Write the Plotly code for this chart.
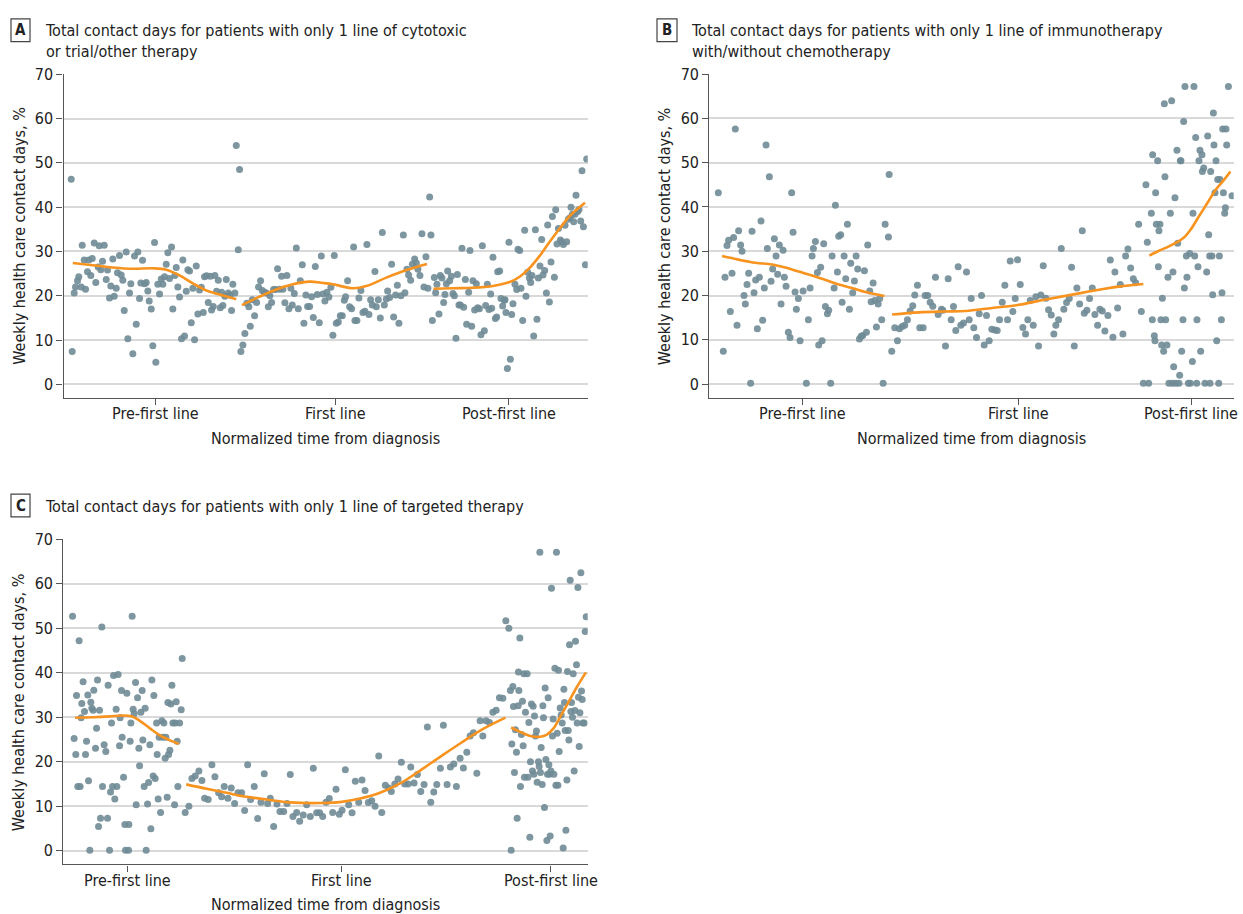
import plotly.graph_objects as go

# ---------------------------------------------------------------------------
# Weekly health care contact days (%) over normalized time from diagnosis.
# Time is on a 0-524 normalized scale per panel; each panel is split into
# pre-first-line, first-line and post-first-line periods.
# ---------------------------------------------------------------------------

SEGMENT_LABELS = ["Pre-first line", "First line", "Post-first line"]

# ---- Panel A: cytotoxic or trial/other therapy ---------------------------
a_pre_t = [7.7, 8.7, 10.7, 12, 14, 15.3, 17.7, 18.7, 20.7, 22, 24, 25.3, 27.3, 28.7, 30.7, 32.3, 34.7,
           35.7, 37.3, 39, 40.7, 42.7, 44, 46, 47.3, 49.3, 50.7, 52.7, 54, 56, 57.7, 59.3, 60.7, 62.7,
           64.3, 66, 67.3, 69.3, 71, 72.7, 74.3, 76, 77.3, 79, 81, 82.7, 84.3, 85.7, 87.7, 89.3, 91,
           92.3, 94.3, 96, 97.7, 99.3, 101, 102.7, 104.3, 106, 108, 109.3, 111.3, 112.7, 114.3, 116,
           118, 119.3, 121, 122.7, 124.3, 126, 127.7, 129.3, 131, 132.7, 134.3, 136, 137.7, 139.7, 141,
           143, 144.7, 146.7, 148, 149.7, 151.3, 153, 154.7, 156.7, 158, 159.3, 161.3, 162.7, 164.7,
           166.7, 168, 169.3, 171.3, 172.7, 174.7, 176]
a_pre_pct = [46.3, 7.4, 20.6, 22.0, 23.4, 24.3, 22.0, 31.4, 28.1, 21.5, 25.4, 28.1, 24.6, 28.4, 31.9, 23.0,
             26.5, 31.3, 25.9, 27.8, 31.4, 23.7, 25.8, 19.5, 22.2, 28.3, 19.9, 21.7, 25.2, 29.1, 24.7, 23.5,
             16.7, 29.9, 10.3, 20.6, 22.7, 6.9, 29.0, 13.6, 29.9, 19.4, 22.9, 28.0, 22.7, 23.0, 21.1, 18.8,
             17.0, 8.7, 32.0, 5.0, 22.6, 20.4, 23.8, 22.6, 24.3, 27.1, 29.7, 23.9, 31.0, 17.0, 24.6, 26.4,
             22.0, 19.7, 10.3, 28.1, 10.9, 21.0, 25.9, 25.6, 13.9, 21.7, 10.1, 26.7, 15.9, 21.3, 21.9, 16.2,
             24.3, 24.5, 18.5, 24.4, 16.8, 17.6, 24.6, 21.0, 23.5, 17.3, 20.8, 17.8, 19.9, 23.7, 20.6, 20.2,
             16.7, 22.6, 20.6, 53.9, 30.4, 48.5]
a_first_t = [177.3, 179.3, 181.3, 183.3, 185.3, 186.7, 188.7, 191, 193, 195, 197, 198.7, 200.7, 202.7,
             204.7, 206.3, 208, 210, 212, 214, 216, 218, 219.3, 221.3, 223.3, 225.3, 227.3, 228.7, 230.7,
             232.7, 234.7, 236.7, 238.7, 240.3, 242.3, 244, 246, 248, 249.7, 251.7, 253.7, 255.7, 257.7,
             259.3, 261.3, 263.3, 265.3, 267.3, 269.3, 270.7, 272.7, 274.7, 276.7, 278.7, 280.7, 282, 284,
             286, 288, 290, 291.3, 293.3, 295.3, 297.3, 299.3, 301.3, 303.3, 305.3, 307, 308.7, 311.3,
             312.7, 314.7, 316.7, 318.7, 320.7, 322.7, 324, 326, 328, 330, 332, 333.7, 335.3, 337.3,
             339.7, 341.3, 343.3, 345, 347, 348.7, 351, 352.7, 354.3, 356.3, 358.3, 360.3, 362.3, 364.3,
             366, 367.3]
a_first_pct = [7.4, 8.9, 11.5, 18.3, 17.5, 13.1, 19.1, 15.5, 18.5, 22.0, 23.4, 21.2, 20.8, 20.6, 17.5, 20.0,
               18.5, 21.4, 21.4, 26.1, 21.5, 24.4, 21.5, 18.4, 24.6, 17.1, 21.7, 17.9, 20.5, 30.8, 17.1,
               23.4, 27.0, 13.8, 20.2, 17.6, 17.6, 19.8, 15.1, 26.6, 20.3, 13.9, 29.0, 20.4, 18.8, 20.8,
               19.7, 21.9, 11.1, 29.1, 13.8, 14.1, 15.5, 15.5, 19.0, 19.8, 23.4, 17.5, 17.1, 31.0, 14.4,
               14.4, 19.5, 21.2, 16.2, 16.5, 31.6, 15.8, 19.1, 17.9, 25.5, 17.5, 19.1, 15.0, 34.3, 17.9,
               19.3, 21.1, 19.6, 27.1, 15.2, 20.2, 22.4, 13.8, 20.0, 33.7, 20.7, 26.0, 24.7, 23.5, 27.1,
               28.3, 27.4, 26.0, 24.6, 34.0, 22.0, 28.8, 21.7, 42.3, 33.7]
a_post_t = [368.7, 370.7, 372, 373.3, 375.3, 376.7, 378.3, 380, 381.3, 382.7, 384, 386, 387.7, 389.3, 390.7,
            392.3, 393.7, 395.3, 396.7, 398.3, 400, 401.7, 403, 405, 406.3, 408, 409.3, 411, 412.7, 414,
            415.7, 417.3, 418.7, 420.7, 422, 423.7, 425.3, 427, 428, 429.3, 431.7, 433, 434, 436, 437.3,
            439, 440.7, 441.3, 442.3, 443.7, 445.3, 446.7, 448, 449.3, 451.3, 453, 454.3, 456, 457.3, 459,
            461, 462.3, 464, 465.7, 467, 468.3, 470, 471.7, 473.3, 474.7, 476.3, 478, 479.3, 481, 482.7,
            484, 485.7, 487.3, 488.7, 490.7, 492, 493.3, 494.7, 496.7, 498, 499.7, 501.3, 503, 504.7,
            506.3, 507.3, 508.7, 510, 511.3, 512.3, 514, 515.3, 517, 518.3, 519.7, 521.7, 523]
a_post_pct = [14.4, 24.1, 20.7, 22.6, 15.9, 24.6, 24.0, 18.5, 20.3, 22.7, 25.6, 23.4, 24.4, 20.5, 20.0, 10.4,
              24.8, 17.9, 17.9, 30.7, 17.4, 23.7, 13.6, 20.8, 30.2, 13.1, 23.4, 16.8, 22.7, 17.3, 17.1,
              11.2, 31.3, 12.1, 17.8, 22.6, 16.9, 20.4, 17.2, 28.7, 14.9, 15.2, 25.4, 25.6, 19.4, 17.7,
              19.0, 19.1, 16.2, 3.6, 32.1, 5.7, 15.8, 18.2, 22.6, 21.4, 30.5, 30.2, 21.7, 14.4, 34.8, 19.9,
              25.3, 24.0, 23.0, 24.6, 10.9, 34.9, 14.7, 24.0, 26.7, 32.7, 24.7, 25.7, 20.6, 36.0, 18.6,
              27.6, 37.9, 24.2, 39.4, 31.7, 35.2, 32.6, 32.2, 31.6, 35.9, 32.2, 37.3, 37.6, 40.0, 38.4,
              36.7, 38.4, 42.7, 39.0, 39.5, 36.9, 48.2, 35.6, 27.0, 50.9]

# Smoothed (LOWESS) trend per period
a_fit_pre_t = [9.3, 29.3, 49.3, 69.3, 89.3, 102.7, 116, 129.3, 142.7, 156, 172.7]
a_fit_pre_pct = [27.4, 26.9, 26.4, 26.1, 26.2, 25.9, 24.6, 22.8, 21.2, 20.3, 19.2]
a_fit_first_t = [178.3, 196, 212.7, 229.3, 246, 259.3, 269.3, 289.3, 302.7, 322.7, 342.7, 363.3]
a_fit_first_pct = [17.9, 19.8, 21.4, 22.6, 23.2, 22.9, 22.6, 21.7, 22.2, 24.1, 25.8, 27.2]
a_fit_post_t = [369.7, 389.3, 409.3, 429.3, 446, 456, 466, 476, 486, 496, 506, 521.3]
a_fit_post_pct = [21.6, 21.7, 21.8, 22.2, 23.1, 24.3, 26.3, 29.0, 32.2, 35.2, 38.0, 41.0]

# ---- Panel B: immunotherapy with/without chemotherapy --------------------
b_pre_t = [9, 14, 15.7, 17.7, 19.3, 21, 22.7, 24.3, 26, 27.7, 29.3, 31.3, 32.7, 34.7, 36, 37.7, 39.3,
           41.3, 42.7, 44.7, 46.3, 48, 50, 51.7, 53.3, 55, 56.7, 58, 60, 61.7, 63.3, 65, 66.7, 68.3, 70,
           71.7, 73.7, 75, 76.7, 79, 80.7, 82.3, 83.7, 85.7, 87, 89, 90.7, 93.7, 97, 99, 100.7, 102.7,
           104, 106, 108, 109.3, 111.3, 112.7, 114.3, 116, 118, 119.3, 121.3, 122.7, 124.7, 126, 128,
           129.3, 131.3, 132.7, 134.7, 136.3, 138, 140, 141.3, 143.3, 145, 146.7, 148.3, 150, 151.7,
           153.3, 155, 157, 158.3, 160.3, 161.7, 163.7, 165.3, 167, 168.7, 170.3, 172.3, 173.7, 175.7,
           179, 179.7]
b_pre_pct = [43.2, 7.4, 24.1, 31.3, 32.5, 16.4, 25.0, 33.1, 57.6, 13.3, 34.6, 31.4, 30.0, 20.0, 18.1, 22.5,
             25.0, 0.2, 34.5, 20.6, 23.5, 12.5, 24.1, 36.8, 14.4, 21.7, 54.0, 30.6, 46.8, 23.2, 26.0, 32.8,
             28.9, 24.8, 31.4, 18.1, 30.2, 24.1, 22.1, 11.7, 10.5, 43.2, 34.3, 20.8, 16.9, 19.3, 9.8, 21.0,
             0.2, 14.5, 21.7, 28.9, 30.6, 32.2, 25.2, 8.8, 26.4, 9.8, 31.7, 17.5, 15.9, 16.7, 0.2, 28.9,
             21.7, 40.4, 25.3, 33.4, 33.7, 18.5, 28.9, 23.8, 36.1, 16.9, 27.3, 20.6, 23.3, 28.9, 26.0,
             10.2, 10.8, 11.0, 25.6, 11.7, 31.4, 21.0, 18.6, 22.8, 18.9, 12.9, 18.1, 19.3, 14.5, 0.2, 36.1,
             33.2, 47.3]
b_first_t = [182.3, 185.3, 188, 190, 192.7, 195.3, 198, 200.7, 203.3, 205.3, 208, 210.3, 213.7, 215.7,
             218.3, 220.7, 223.3, 226, 228.7, 232, 233.3, 236, 238.7, 241.7, 244, 246.3, 248.7, 251.3,
             254, 257, 259.7, 261.7, 264.3, 267, 269.7, 272, 274.7, 277, 279.7, 282.3, 285.3, 287.7, 290,
             292.7, 295.3, 298, 300.7, 303.3, 305.7, 308, 310.7, 313.3, 316, 318.3, 320.7, 323.7, 326.3,
             329, 331.3, 333.7, 336.3, 339, 341.7, 344.3, 346.3, 349, 351.7, 354.3, 357, 359.7, 362,
             364.7, 367.3, 370, 372.7, 374.7, 377.3, 380, 382.7, 385.3, 388, 390.3, 392.7, 395.3, 398.3,
             400.7, 403.3, 405.3, 408, 410.7, 413.3, 416, 418.3, 421, 423.7, 426]
b_first_pct = [7.4, 12.7, 9.8, 12.5, 13.0, 13.3, 14.5, 16.5, 17.7, 20.1, 22.3, 12.7, 12.7, 20.0, 20.0, 18.5,
               17.6, 24.1, 15.7, 16.9, 16.7, 8.6, 23.8, 14.5, 17.5, 12.1, 26.5, 13.3, 13.8, 25.3, 14.5,
               19.3, 12.7, 10.5, 15.9, 20.0, 8.8, 15.5, 9.8, 12.4, 12.2, 12.1, 14.5, 18.5, 22.3, 14.5,
               27.8, 16.4, 19.3, 28.1, 22.5, 12.8, 11.3, 14.5, 18.9, 13.3, 19.7, 8.6, 20.1, 26.7, 19.4,
               16.8, 15.6, 11.3, 13.3, 14.5, 30.6, 16.9, 18.4, 19.3, 26.4, 8.6, 21.7, 18.1, 34.6, 16.0,
               16.7, 19.3, 21.7, 15.7, 13.3, 16.9, 16.5, 12.0, 15.5, 28.0, 10.6, 25.3, 17.2, 22.5, 11.3,
               28.9, 30.5, 26.2, 23.8, 22.9]
b_post_t = [429, 431.7, 433.7, 436.3, 437.7, 439, 441.7, 443, 442.7, 444.7, 445.3, 446, 446.7, 448, 448.7,
            449.3, 450.3, 451.3, 452, 452.7, 454, 454.7, 455.3, 456, 457.3, 458.3, 459.3, 460.7, 462,
            462.7, 463.3, 464, 465.3, 466, 467.3, 468, 469.3, 470, 470.7, 471.3, 472, 473.3, 474, 474.7,
            475.3, 476.7, 477.3, 478.7, 480, 480.7, 482.7, 483.3, 484.3, 485, 486, 487, 487.3, 488.3,
            489.3, 490.3, 491, 492.3, 492.7, 494, 495.3, 497, 498, 499, 500, 500.3, 501, 502.3, 503,
            503.7, 504.3, 505.3, 506.3, 507, 508, 509, 509.7, 510.3, 511.7, 512.3, 513, 513.7, 515,
            515.7, 516.3, 517, 518.7, 522.3]
b_post_pct = [36.1, 16.4, 0.2, 45.0, 32.0, 0.2, 38.6, 51.8, 14.5, 10.9, 9.8, 43.2, 36.1, 50.4, 26.5, 34.6,
              36.1, 14.5, 8.8, 19.4, 7.4, 63.3, 46.8, 14.5, 8.8, 24.1, 0.2, 38.6, 64.0, 0.2, 25.3, 3.9,
              42.1, 0.2, 52.8, 31.8, 0.2, 2.0, 50.4, 50.4, 7.4, 14.5, 59.3, 21.7, 67.2, 28.9, 24.1, 0.2,
              29.5, 0.2, 5.1, 38.6, 67.2, 28.9, 55.7, 0.2, 14.5, 26.5, 50.4, 52.8, 7.4, 51.8, 48.0, 48.8,
              0.2, 25.3, 56.0, 33.7, 28.9, 0.2, 48.0, 28.9, 20.2, 61.2, 54.0, 43.2, 50.4, 9.8, 46.2, 0.2,
              28.9, 46.2, 14.5, 20.6, 57.6, 43.2, 38.6, 39.8, 57.6, 54.0, 67.2, 42.5]

b_fit_pre_t = [12.7, 29.3, 46, 62.7, 76, 89.3, 102.7, 116, 129.3, 142.7, 156, 175]
b_fit_pre_pct = [28.9, 28.1, 27.4, 27.0, 26.3, 25.4, 24.5, 23.5, 22.5, 21.7, 20.8, 19.9]
b_fit_first_t = [182.7, 209.3, 236, 256, 282.7, 309.3, 336, 362.7, 389.3, 409.3, 433.7]
b_fit_first_pct = [15.7, 16.2, 16.4, 16.5, 17.2, 17.9, 19.1, 20.2, 21.3, 22.0, 22.6]
b_fit_post_t = [439.7, 449.3, 459.3, 467.7, 474.3, 481, 489.3, 497.7, 506, 514.3, 520.7]
b_fit_post_pct = [29.0, 30.1, 31.1, 32.1, 33.1, 34.9, 37.9, 40.9, 43.9, 46.1, 48.0]

# ---- Panel C: targeted therapy -------------------------------------------
c_pre_t = [9.2, 10.8, 12.5, 13.2, 14.5, 15.8, 16.8, 17.8, 18.5, 19.8, 21.2, 22.2, 23.2, 24.5, 25.2, 26.5,
           27.5, 28.5, 29.8, 30.5, 32.2, 33.2, 34.2, 35.2, 36.2, 37.2, 38.5, 39.2, 40.8, 42.5, 44.2, 44.8,
           46.2, 47.2, 48.2, 49.2, 50.2, 51.5, 52.8, 53.5, 54.8, 56.2, 56.8, 58.2, 58.8, 60.2, 61.5,
           62.2, 63.5, 65.2, 65.5, 66.8, 67.5, 68.8, 69.8, 70.8, 72.2, 72.8, 74.2, 75.5, 76.2, 77.5,
           78.8, 79.5, 80.8, 81.8, 82.8, 84.2, 85.2, 86.5, 87.5, 88.5, 89.8, 90.5, 91.8, 93.2, 93.8,
           94.8, 95.8, 97.2, 98.5, 99.5, 100.5, 101.8, 102.5, 103.8, 104.5, 105.2, 106.5, 107.5, 108.5,
           109.5, 111.2, 111.8, 112.8, 113.8, 114.5, 116.2, 117.8, 118.8]
c_pre_pct = [52.7, 25.2, 21.6, 34.9, 14.4, 47.2, 14.4, 29.9, 33.1, 38.0, 31.3, 21.6, 24.6, 35.0, 15.7, 0.1,
             33.4, 32.0, 31.6, 36.1, 23.0, 27.5, 38.4, 5.4, 31.6, 7.3, 50.3, 14.4, 23.8, 22.3, 7.3, 37.2,
             0.1, 13.2, 28.7, 14.4, 39.4, 11.6, 31.8, 14.4, 39.6, 23.6, 29.9, 36.0, 25.5, 16.5, 5.9, 0.1,
             35.4, 0.1, 5.9, 24.6, 28.7, 52.7, 31.8, 30.8, 37.8, 10.3, 34.4, 23.0, 19.1, 31.1, 36.0, 24.9,
             14.4, 32.0, 0.1, 10.5, 15.3, 23.8, 4.9, 38.4, 16.8, 34.9, 16.2, 28.7, 21.6, 11.6, 25.5, 8.6,
             29.2, 25.5, 28.7, 20.8, 25.5, 12.0, 33.3, 21.6, 22.6, 33.0, 37.2, 28.7, 10.3, 28.7, 33.5,
             24.6, 14.4, 28.7, 31.7, 43.2]
c_first_t = [121.8, 125.5, 128.5, 131.8, 135.5, 138.5, 141.2, 144.8, 148.5, 151.5, 155.2, 158.2, 160.8,
             164.5, 167.8, 171.2, 174.5, 178.2, 181.2, 184.2, 187.2, 190.8, 194.2, 197.5, 200.8, 204.2,
             206.8, 210.2, 213.5, 216.5, 220.2, 223.5, 226.8, 229.5, 233.2, 236.2, 239.8, 243.2, 246.8,
             249.8, 253.2, 256.2, 259.2, 262.5, 265.8, 269.2, 272.5, 275.8, 278.5, 281.8, 285.2, 288.5,
             291.8, 295.2, 298.5, 301.5, 304.8, 308.2, 311.5, 315.2, 318.2, 321.8, 325.2, 327.8, 331.2,
             334.5, 337.8, 341.2, 344.5, 347.2, 350.5, 353.8, 357.2, 360.5, 363.8, 367.2, 370.2, 373.2,
             376.8, 379.8, 383.5, 386.8, 390.2, 392.8, 396.5, 399.8, 403.2, 406.5, 409.8, 413.2, 416.5,
             419.2, 422.5, 425.8, 429.2, 432.5, 435.8, 439.2]
c_first_pct = [8.6, 10.0, 16.2, 16.8, 17.9, 15.8, 11.8, 11.5, 19.3, 16.6, 13.0, 12.1, 14.4, 11.8, 14.1,
               10.6, 13.0, 13.0, 9.0, 19.3, 11.5, 14.4, 7.2, 10.9, 17.3, 10.6, 11.8, 5.4, 10.5, 8.8, 8.8,
               10.6, 17.1, 7.7, 8.6, 6.6, 8.0, 10.3, 7.7, 18.5, 8.5, 8.5, 7.7, 10.9, 11.7, 8.6, 13.8, 8.2,
               9.1, 18.2, 10.3, 8.5, 15.6, 10.9, 15.9, 13.5, 10.8, 11.2, 10.0, 21.3, 8.6, 14.7, 14.1,
               13.3, 15.0, 16.1, 19.9, 15.0, 15.0, 18.8, 15.2, 17.1, 13.3, 14.9, 27.8, 10.9, 13.2, 14.9,
               18.5, 28.2, 14.9, 18.8, 19.5, 14.4, 20.8, 18.6, 22.1, 25.8, 26.5, 17.4, 29.2, 25.8, 29.2,
               28.8, 31.1, 31.6, 34.4, 34.3]
c_post_t = [442.2, 445.2, 446.8, 447.5, 448.2, 449.2, 449.8, 450.8, 451.8, 452.8, 453.5, 454.5, 454.8,
            455.2, 456.2, 456.8, 457.8, 458.8, 459.5, 460.2, 460.8, 461.8, 463.5, 464.2, 465.2, 466.2,
            466.8, 467.8, 468.8, 469.5, 470.2, 470.8, 471.8, 472.8, 473.5, 474.8, 475.5, 476.2, 476.8,
            477.5, 478.5, 479.2, 479.8, 480.8, 481.5, 482.2, 483.2, 483.8, 484.5, 485.2, 485.8, 486.5,
            487.2, 487.8, 488.8, 489.5, 490.2, 491.2, 492.2, 492.8, 493.5, 494.2, 494.8, 495.5, 496.5,
            497.5, 498.5, 499.5, 500.2, 500.8, 501.5, 502.2, 503.2, 503.8, 504.5, 505.2, 505.8, 506.5,
            507.2, 507.8, 508.8, 509.5, 510.5, 511.2, 511.8, 512.8, 513.5, 514.2, 514.8, 515.5, 516.2,
            517.2, 517.8, 518.5, 519.2, 520.5, 521.5, 522.5]
c_post_pct = [51.7, 50.0, 36.0, 0.1, 24.0, 36.9, 32.4, 17.6, 27.2, 22.1, 7.3, 32.6, 40.2, 36.0, 47.8, 14.4,
              26.1, 33.6, 23.6, 39.8, 16.5, 31.1, 39.8, 16.5, 28.8, 3.0, 20.0, 33.0, 17.9, 32.5, 17.2,
              30.3, 25.8, 26.9, 15.4, 20.0, 18.9, 67.1, 17.6, 23.2, 14.9, 32.6, 29.9, 9.7, 36.6, 20.5,
              2.3, 17.2, 34.4, 19.3, 17.2, 3.3, 17.9, 59.0, 25.8, 29.6, 17.2, 41.0, 14.7, 67.1, 26.4,
              14.7, 40.6, 22.3, 32.1, 30.5, 28.7, 0.6, 36.3, 33.3, 27.0, 4.6, 15.9, 40.3, 27.0, 24.9,
              46.3, 60.8, 31.3, 33.3, 30.0, 39.8, 17.9, 31.5, 47.1, 41.8, 28.7, 59.2, 34.5, 23.4, 31.0,
              62.5, 35.9, 34.0, 28.7, 28.7, 49.3, 52.6]

c_fit_pre_t = [11.8, 29.8, 46.5, 58.2, 68.2, 76.5, 86.5, 96.5, 106.5, 115.5]
c_fit_pre_pct = [29.9, 30.0, 30.2, 30.4, 30.2, 29.2, 27.5, 25.9, 24.8, 24.0]
c_fit_first_t = [122.8, 143.2, 163.2, 183.2, 203.2, 223.2, 243.2, 256.5, 276.5, 296.5, 316.5, 336.5,
                 356.5, 376.5, 396.5, 416.5, 441.8]
c_fit_first_pct = [14.9, 13.9, 13.0, 12.1, 11.5, 10.9, 10.7, 10.7, 10.9, 11.7, 13.0, 15.1, 18.0, 21.1,
                   24.1, 27.0, 29.9]
c_fit_post_t = [447.5, 456.5, 466.5, 476.5, 483.2, 489.8, 496.5, 504.8, 513.2, 522.2]
c_fit_post_pct = [27.7, 26.7, 25.8, 25.6, 26.1, 27.5, 30.1, 33.4, 36.8, 40.1]

# Tick positions of the three periods on each panel's time scale
a_tick_t = [92, 271.5, 445]
b_tick_t = [93.5, 308.5, 481.5]
c_tick_t = [64, 277.5, 487]

PANEL_TITLES = {
    "A": "Total contact days for patients with only 1 line of cytotoxic<br>or trial/other therapy",
    "B": "Total contact days for patients with only 1 line of immunotherapy<br>with/without chemotherapy",
    "C": "Total contact days for patients with only 1 line of targeted therapy",
}
Y_TITLE = "Weekly health care contact days, %"
X_TITLE = "Normalized time from diagnosis"

# ---------------------------------------------------------------------------
W, H = 1243, 914
FONT = "Liberation Sans Narrow, DejaVu Sans Condensed, Roboto Condensed, Arial Narrow, sans-serif"
DOT = "#6f8b96"
ORANGE = "#f7931e"
GRID = "#d9d9d9"
AXIS = "#555555"
TEXT = "#222222"


def px_x(v):
    return v / W


def px_y(v):
    return 1 - v / H


fig = go.Figure()

panels = [
    ("A", "x", "y",
     [(a_pre_t, a_pre_pct), (a_first_t, a_first_pct), (a_post_t, a_post_pct)],
     [(a_fit_pre_t, a_fit_pre_pct), (a_fit_first_t, a_fit_first_pct), (a_fit_post_t, a_fit_post_pct)]),
    ("B", "x2", "y2",
     [(b_pre_t, b_pre_pct), (b_first_t, b_first_pct), (b_post_t, b_post_pct)],
     [(b_fit_pre_t, b_fit_pre_pct), (b_fit_first_t, b_fit_first_pct), (b_fit_post_t, b_fit_post_pct)]),
    ("C", "x3", "y3",
     [(c_pre_t, c_pre_pct), (c_first_t, c_first_pct), (c_post_t, c_post_pct)],
     [(c_fit_pre_t, c_fit_pre_pct), (c_fit_first_t, c_fit_first_pct), (c_fit_post_t, c_fit_post_pct)]),
]

for name, xa, ya, points, fits in panels:
    for (t, pct), seg in zip(points, SEGMENT_LABELS):
        fig.add_trace(go.Scatter(
            x=t, y=pct, mode="markers", xaxis=xa, yaxis=ya, name=f"{name} {seg}",
            marker=dict(size=7, color=DOT, opacity=0.9, line=dict(width=0)),
            showlegend=False, hoverinfo="x+y"))
    for t, pct in fits:
        fig.add_trace(go.Scatter(
            x=t, y=pct, mode="lines", xaxis=xa, yaxis=ya,
            line=dict(color=ORANGE, width=2.6, shape="spline", smoothing=1.0),
            showlegend=False, hoverinfo="skip"))

# Pixel geometry of the three plot areas: (left, right, top, bottom)
boxes = {
    "A": (63.5, 587.7, 65.9, 393.0),
    "B": (709.3, 1233.7, 65.7, 392.7),
    "C": (63.3, 587.7, 535.7, 863.9),
}
ticks = {"A": a_tick_t, "B": b_tick_t, "C": c_tick_t}
axis_names = {"A": ("xaxis", "yaxis", "x", "y"),
              "B": ("xaxis2", "yaxis2", "x2", "y2"),
              "C": ("xaxis3", "yaxis3", "x3", "y3")}

layout_axes = {}
for key, (l, r, t, b) in boxes.items():
    xname, yname, xid, yid = axis_names[key]
    layout_axes[xname] = dict(
        domain=[px_x(l), px_x(r)], anchor=yid, range=[0, 524],
        tickmode="array", tickvals=ticks[key], showticklabels=False,
        ticks="outside", ticklen=6, tickwidth=1.2, tickcolor=AXIS,
        showline=True, linecolor=AXIS, linewidth=1.3, showgrid=False, zeroline=False,
        fixedrange=True)
    layout_axes[yname] = dict(
        domain=[px_y(b), px_y(t)], anchor=xid, range=[-3.1, 70],
        tickmode="array", tickvals=[0, 10, 20, 30, 40, 50, 60, 70],
        ticks="outside", ticklen=6, tickwidth=1.2, tickcolor=AXIS,
        showline=True, linecolor=AXIS, linewidth=1.3,
        showgrid=True, gridcolor=GRID, gridwidth=2, zeroline=False,
        tickfont=dict(family=FONT, size=16, color=TEXT), fixedrange=True)

annotations = []
shapes = []
label_boxes = {"A": (11, 30, 10, 33), "B": (657, 677, 10, 33), "C": (11, 30, 490, 513)}
title_pos = {"A": (43, 10), "B": (689, 10), "C": (43, 491)}
for key, (l, r, t, b) in boxes.items():
    xname, yname, xid, yid = axis_names[key]
    bl, br, bt, bb = label_boxes[key]
    shapes.append(dict(type="rect", xref="paper", yref="paper",
                       x0=px_x(bl), x1=px_x(br), y0=px_y(bb), y1=px_y(bt),
                       line=dict(color="#444444", width=1.2), fillcolor="white"))
    annotations.append(dict(text=f"<b>{key}</b>", xref="paper", yref="paper",
                            x=px_x((bl + br) / 2), y=px_y((bt + bb) / 2),
                            xanchor="center", yanchor="middle", showarrow=False,
                            font=dict(family=FONT, size=15, color=TEXT)))
    tx, ty = title_pos[key]
    annotations.append(dict(text=PANEL_TITLES[key], xref="paper", yref="paper",
                            x=px_x(tx), y=px_y(ty), xanchor="left", yanchor="top",
                            align="left", showarrow=False,
                            font=dict(family=FONT, size=16, color=TEXT)))
    # period labels under the x axis ticks
    for tv, lab in zip(ticks[key], SEGMENT_LABELS):
        annotations.append(dict(text=lab, xref=xid, yref="paper",
                                x=tv, y=px_y(b + 16),
                                xanchor="center", yanchor="middle", showarrow=False,
                                font=dict(family=FONT, size=16, color=TEXT)))
    # axis titles
    annotations.append(dict(text=Y_TITLE, xref="paper", yref="paper",
                            x=px_x(l - 44), y=px_y((t + b) / 2), textangle=-90,
                            xanchor="center", yanchor="middle", showarrow=False,
                            font=dict(family=FONT, size=16, color=TEXT)))
    annotations.append(dict(text=X_TITLE, xref="paper", yref="paper",
                            x=px_x((l + r) / 2), y=px_y(b + 41),
                            xanchor="center", yanchor="middle", showarrow=False,
                            font=dict(family=FONT, size=16, color=TEXT)))

fig.update_layout(
    width=W, height=H,
    margin=dict(l=0, r=0, t=0, b=0),
    paper_bgcolor="white", plot_bgcolor="white",
    showlegend=False,
    font=dict(family=FONT, color=TEXT),
    annotations=annotations, shapes=shapes,
    **layout_axes,
)

# Keep the chart flush with the page corner.
fig.write_html("out.html",
               post_script="document.body.style.margin='0';document.body.style.padding='0';")
